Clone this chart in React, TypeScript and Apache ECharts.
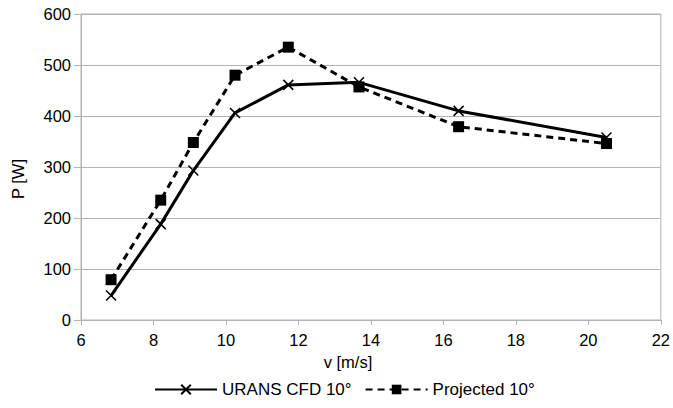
import React, { useEffect, useRef } from "react";
import * as echarts from "echarts";

const vValues = [6.83, 8.2, 9.1, 10.25, 11.72, 13.67, 16.42, 20.5];
const uransCfd = [48, 188, 293, 406, 461, 466, 410, 358];
const projected = [79, 235, 348, 480, 535, 457, 379, 346];
const seriesNames = ["URANS CFD 10°", "Projected 10°"];
const xAxisTitle = "v [m/s]";
const yAxisTitle = "P [W]";

const crossPath = "path://M0,0L10,10M10,0L0,10";

export default function App() {
  const ref = useRef<HTMLDivElement>(null);
  useEffect(() => {
    if (!ref.current) return;
    const chart = echarts.init(ref.current, null, { renderer: "svg" });
    const font = "Liberation Sans";
    chart.setOption({
      animation: false,
      textStyle: { fontFamily: font },
      grid: {
        left: 81,
        right: 11,
        top: 14,
        bottom: 88,
        show: true,
        borderColor: "#b3b3b3",
        borderWidth: 1,
      },
      graphic: [
        {
          type: "text",
          x: 348,
          y: 362,
          style: {
            text: xAxisTitle,
            fontFamily: font,
            fontSize: 16.5,
            fill: "#000",
            align: "center",
            verticalAlign: "middle",
          },
        },
        {
          type: "text",
          x: 18,
          y: 179,
          rotation: Math.PI / 2,
          style: {
            text: yAxisTitle,
            fontFamily: font,
            fontSize: 16.5,
            fill: "#000",
            align: "center",
            verticalAlign: "middle",
          },
        },
      ],
      legend: {
        top: 381,
        left: 154,
        padding: 0,
        itemWidth: 62,
        itemHeight: 12,
        itemGap: 13,
        textStyle: { fontFamily: font, fontSize: 17, color: "#000" },
        data: seriesNames,
      },
      xAxis: {
        type: "value",
        min: 6,
        max: 22,
        interval: 2,
        axisLine: { show: true, lineStyle: { color: "#b3b3b3" } },
        axisTick: { show: true, length: 5, lineStyle: { color: "#b3b3b3" } },
        axisLabel: { fontFamily: font, fontSize: 16.5, color: "#000", margin: 11 },
        splitLine: { show: false },
      },
      yAxis: {
        type: "value",
        min: 0,
        max: 600,
        interval: 100,
        axisLine: { show: true, lineStyle: { color: "#b3b3b3" } },
        axisTick: { show: true, length: 7, lineStyle: { color: "#b3b3b3" } },
        axisLabel: { fontFamily: font, fontSize: 16.5, color: "#000", margin: 10 },
        splitLine: { show: true, lineStyle: { color: "#b3b3b3", width: 1 } },
      },
      series: [
        {
          name: seriesNames[0],
          type: "line",
          data: vValues.map((v, i) => [v, uransCfd[i]]),
          symbol: crossPath,
          symbolSize: 10,
          showSymbol: true,
          lineStyle: { color: "#000", width: 3 },
          itemStyle: { color: "#000", borderColor: "#000", borderWidth: 1.5 },
          z: 3,
        },
        {
          name: seriesNames[1],
          type: "line",
          data: vValues.map((v, i) => [v, projected[i]]),
          symbol: "rect",
          symbolSize: 11,
          showSymbol: true,
          lineStyle: { color: "#000", width: 3, type: [7, 5] },
          itemStyle: { color: "#000", borderWidth: 0 },
          z: 2,
        },
      ],
    });
    return () => chart.dispose();
  }, []);
  return (
    <div
      ref={ref}
      style={{ position: "absolute", left: 0, top: 0, width: 673, height: 408 }}
    />
  );
}
